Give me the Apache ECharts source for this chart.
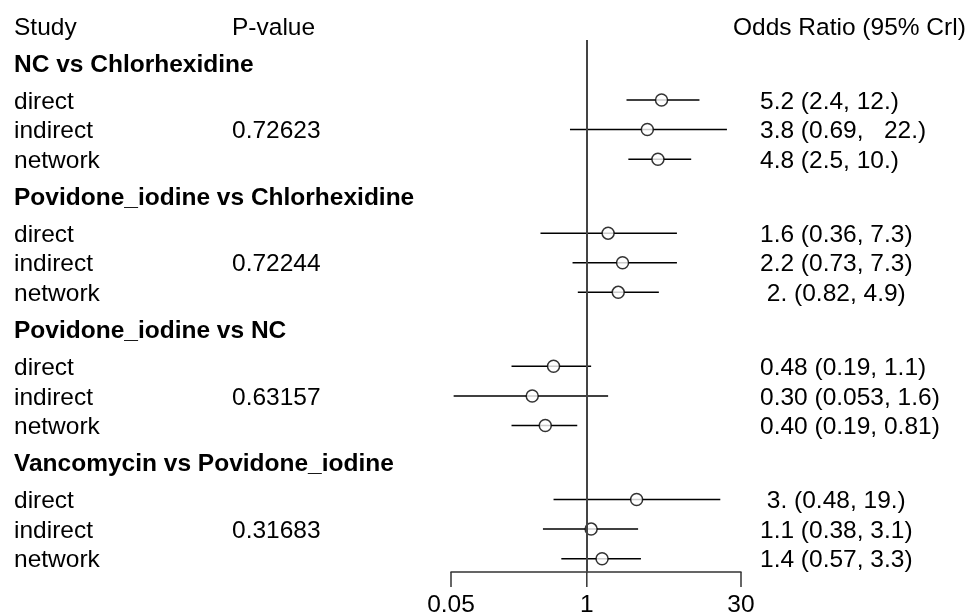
<!DOCTYPE html>
<html>
<head>
<meta charset="utf-8">
<script src="https://cdn.jsdelivr.net/npm/echarts@6/dist/echarts.min.js"></script>
<style>
  html, body { margin: 0; padding: 0; background: #fff; }
  #forest { width: 969px; height: 613px; }
</style>
</head>
<body>
<div id="forest"></div>
<script>
let comparisons = ['NC vs Chlorhexidine', 'Povidone_iodine vs Chlorhexidine', 'Povidone_iodine vs NC', 'Vancomycin vs Povidone_iodine']
let studies = ['direct', 'indirect', 'network']
let p_values = ['0.72623', '0.72244', '0.63157', '0.31683']
let estimates = [[5.2, 3.8, 4.8], [1.6, 2.2, 2.0], [0.48, 0.30, 0.40], [3.0, 1.1, 1.4]]
let lower = [[2.4, 0.69, 2.5], [0.36, 0.73, 0.82], [0.19, 0.053, 0.19], [0.48, 0.38, 0.57]]
let upper = [[12, 22, 10], [7.3, 7.3, 4.9], [1.1, 1.6, 0.81], [19, 3.1, 3.3]]
let ci_text = [
    ['5.2 (2.4, 12.)', '3.8 (0.69,   22.)', '4.8 (2.5, 10.)'],
    ['1.6 (0.36, 7.3)', '2.2 (0.73, 7.3)', ' 2. (0.82, 4.9)'],
    ['0.48 (0.19, 1.1)', '0.30 (0.053, 1.6)', '0.40 (0.19, 0.81)'],
    [' 3. (0.48, 19.)', '1.1 (0.38, 3.1)', '1.4 (0.57, 3.3)']
]
let tick_values = [0.05, 1, 30]
let headers = ['Study', 'P-value', 'Odds Ratio (95% Crl)']

let font = 'Liberation Sans'
let font_size = 24.5
let y_min = -3, y_max = 15.95
let col_study = 14, col_p = 232, col_ci = 760, col_head_ci = 733

let forest_chart = echarts.init(document.getElementById('forest'))

// row layout: each comparison takes 4.5 rows, heading sits 1.25 rows above the first study
let points = [], ci_lines = [], texts = []
texts.push([col_study, -2.5, headers[0], 0])
texts.push([col_p, -2.5, headers[1], 0])
texts.push([col_head_ci, -2.5, headers[2], 0])
for (let g = 0; g < comparisons.length; g++) {
    texts.push([col_study, 4.5 * g - 1.25, comparisons[g], 1])
    for (let i = 0; i < studies.length; i++) {
        let y = 4.5 * g + i
        points.push([estimates[g][i], y])
        ci_lines.push([lower[g][i], y, upper[g][i]])
        texts.push([col_study, y, studies[i], 0])
        texts.push([col_ci, y, ci_text[g][i], 0])
        if (i === 1) texts.push([col_p, y, p_values[g], 0])
    }
}

let option = {
    animation: false,
    grid: [
        {left: 451, right: 228, top: 11.2, bottom: 41},
        {left: 0, right: 0, top: 11.2, bottom: 41}
    ],
    xAxis: [
        {
            type: 'log', gridIndex: 0, min: 0.05, max: 30,
            axisLine: {show: true, onZero: false, lineStyle: {color: '#333', width: 1.5}},
            axisTick: {show: false},
            axisLabel: {show: false},
            splitLine: {show: false}
        },
        {type: 'value', gridIndex: 1, min: 0, max: 969, show: false}
    ],
    yAxis: [
        {type: 'value', gridIndex: 0, inverse: true, min: y_min, max: y_max, show: false},
        {type: 'value', gridIndex: 1, inverse: true, min: y_min, max: y_max, show: false}
    ],
    series: [
        {
            type: 'custom',
            xAxisIndex: 0, yAxisIndex: 0,
            data: ci_lines,
            renderItem: function (params, api) {
                let a = api.coord([api.value(0), api.value(1)])
                let b = api.coord([api.value(2), api.value(1)])
                return {
                    type: 'line',
                    shape: {x1: a[0], y1: a[1], x2: b[0], y2: b[1]},
                    style: {stroke: '#000', lineWidth: 1.5}
                }
            },
            z: 2
        },
        {
            type: 'custom',
            xAxisIndex: 0, yAxisIndex: 0,
            data: tick_values.map(function (v) { return [v, y_max] }),
            renderItem: function (params, api) {
                let p = api.coord([api.value(0), api.value(1)])
                return {
                    type: 'group',
                    children: [
                        {
                            type: 'line',
                            shape: {x1: p[0], y1: p[1], x2: p[0], y2: p[1] + 15},
                            style: {stroke: '#333', lineWidth: 1.5}
                        },
                        {
                            type: 'text',
                            style: {
                                text: String(tick_values[params.dataIndex]),
                                x: p[0], y: p[1] + 33,
                                align: 'center', verticalAlign: 'middle',
                                fontSize: font_size, fontFamily: font, fill: '#000'
                            }
                        }
                    ]
                }
            }
        },
        {
            type: 'scatter',
            xAxisIndex: 0, yAxisIndex: 0,
            data: points,
            symbol: 'circle',
            symbolSize: 12,
            itemStyle: {color: '#fff', borderColor: '#000', borderWidth: 1.5},
            markLine: {
                silent: true,
                symbol: 'none',
                label: {show: false},
                lineStyle: {color: '#444', width: 2, type: 'solid'},
                data: [[{coord: [1, -2.03]}, {coord: [1, y_max]}]]
            },
            z: 3
        },
        {
            type: 'custom',
            xAxisIndex: 1, yAxisIndex: 1,
            data: texts,
            silent: true,
            renderItem: function (params, api) {
                let p = api.coord([api.value(0), api.value(1)])
                let row = texts[params.dataIndex]
                return {
                    type: 'text',
                    style: {
                        text: row[2],
                        x: p[0], y: p[1] + 2,
                        align: 'left', verticalAlign: 'middle',
                        fontSize: font_size, fontFamily: font,
                        fontWeight: row[3] ? 'bold' : 'normal',
                        fill: '#000'
                    }
                }
            }
        }
    ]
}
forest_chart.setOption(option)
</script>
</body>
</html>
